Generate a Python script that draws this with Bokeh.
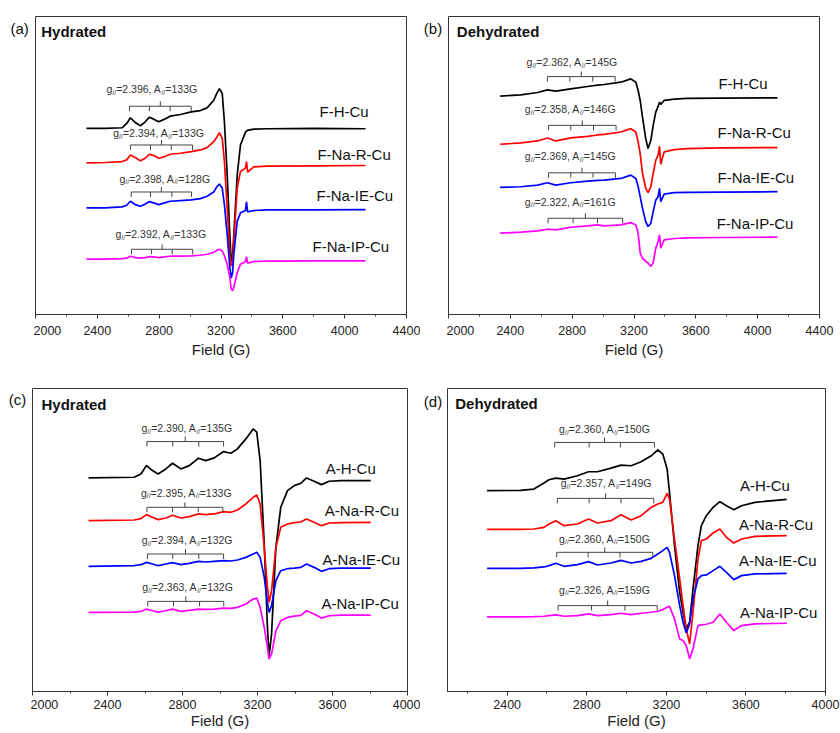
from bokeh.plotting import figure
from bokeh.layouts import row, column
from bokeh.models import Range1d, FixedTicker, Label
from bokeh.core.properties import value
from bokeh.embed import file_html
from bokeh.resources import INLINE

FONT = "Liberation Sans"
COLORS = ["#000000", "#ff0000", "#0000ff", "#ff00ff"]

# ---------------- panel (a): F samples, hydrated ----------------
field_a = [2330, 2450, 2560, 2590, 2614, 2645, 2679, 2710, 2737, 2765, 2797, 2835,
           2871, 2938, 3007, 3067, 3110, 3153, 3175, 3190, 3208, 3222, 3240, 3257,
           3266, 3275, 3283, 3305, 3326, 3358, 3365, 3372, 3412, 3500, 3800, 4135]
a_H = [562, 562, 564, 577, 594, 580, 570, 582, 596, 590, 582, 590, 599, 604, 612, 616,
       624, 647, 670, 682, 667, 582, 422, 242, 160, 175, 242, 422, 512, 550, 554, 556,
       560, 561, 562, 561]
a_R = [458, 459, 462, 467, 482, 474, 464, 472, 484, 480, 472, 477, 484, 487, 492, 497,
       504, 522, 537, 549, 532, 462, 322, 182, 147, 152, 222, 382, 432, 442, 462, 430,
       446, 448, 449, 450]
a_IE = [322, 322, 325, 330, 342, 332, 327, 334, 341, 337, 332, 337, 342, 344, 346, 350,
        357, 370, 387, 394, 382, 332, 242, 142, 110, 127, 182, 282, 307, 314, 340, 310,
        314, 316, 316, 317]
a_IP = [167, 167, 169, 170, 176, 172, 170, 172, 175, 174, 172, 174, 176, 176, 177, 179,
        182, 188, 194, 197, 192, 177, 152, 112, 77, 72, 82, 127, 152, 159, 175, 155,
        160, 161, 162, 162]
names_a = ["F-H-Cu", "F-Na-R-Cu", "F-Na-IE-Cu", "F-Na-IP-Cu"]
g_a = ["2.396", "2.394", "2.398", "2.392"]
A_a = ["133", "133", "128", "133"]
hf_a = [[2608, 2737, 2871, 3007], [2614, 2744, 2878, 3016],
        [2619, 2744, 2882, 3009], [2621, 2750, 2884, 3017]]

# ---------------- panel (b): F samples, dehydrated ----------------
field_b = [2334, 2468, 2576, 2640, 2694, 2791, 2899, 2964, 3007, 3115, 3179, 3212, 3227,
           3240, 3255, 3276, 3291, 3309, 3324, 3341, 3356, 3365, 3373, 3395, 3460, 3546,
           3762, 4128]
b_H = [658, 662, 669, 677, 673, 680, 687, 691, 693, 700, 710, 700, 675, 645, 595, 530,
       500, 525, 570, 610, 627, 640, 633, 645, 649, 651, 652, 653]
b_R = [513, 517, 523, 532, 523, 532, 537, 541, 543, 550, 560, 550, 520, 485, 425, 380,
       367, 385, 425, 465, 480, 507, 453, 490, 497, 500, 502, 503]
b_IE = [383, 385, 390, 397, 390, 397, 402, 404, 405, 410, 420, 410, 385, 355, 320, 280,
        265, 275, 310, 345, 355, 380, 340, 363, 367, 368, 369, 370]
b_IP = [245, 248, 252, 257, 255, 263, 267, 270, 267, 270, 277, 270, 245, 185, 170, 160,
        155, 145, 155, 200, 220, 240, 200, 225, 229, 231, 232, 233]
names_b = ["F-H-Cu", "F-Na-R-Cu", "F-Na-IE-Cu", "F-Na-IP-Cu"]
g_b = ["2.362", "2.358", "2.369", "2.322"]
A_b = ["145", "146", "145", "161"]
hf_b = [[2640, 2785, 2933, 3078], [2647, 2791, 2938, 3084],
        [2647, 2791, 2935, 3080], [2644, 2806, 2964, 3127]]

# ---------------- panel (c): A samples, hydrated ----------------
field_c = [2299, 2542, 2578, 2608, 2640, 2670, 2711, 2747, 2791, 2836, 2885, 2924, 2969,
           3019, 3058, 3093, 3138, 3177, 3196, 3214, 3236, 3253, 3262, 3275, 3298, 3324,
           3360, 3396, 3431, 3461, 3502, 3541, 3582, 3644, 3804]
c_H = [640, 642, 652, 677, 662, 652, 667, 684, 667, 677, 699, 692, 700, 719, 714, 727,
       757, 787, 777, 692, 442, 192, 107, 172, 432, 552, 602, 617, 624, 640, 630, 620,
       630, 632, 632]
c_R = [512, 514, 518, 530, 522, 515, 520, 528, 520, 524, 532, 530, 532, 539, 537, 544,
       562, 582, 589, 562, 432, 312, 267, 302, 432, 492, 502, 506, 508, 517, 507, 497,
       505, 506, 507]
c_IE = [375, 377, 380, 387, 382, 377, 382, 386, 380, 384, 390, 388, 390, 392, 391, 394,
        402, 412, 417, 402, 342, 267, 237, 257, 332, 362, 368, 370, 372, 382, 372, 360,
        368, 370, 370]
c_IP = [237, 238, 240, 247, 242, 238, 242, 247, 240, 243, 247, 246, 247, 250, 249, 252,
        262, 277, 280, 252, 192, 132, 97, 112, 182, 212, 222, 226, 228, 242, 232, 220,
        227, 229, 229]
names_c = ["A-H-Cu", "A-Na-R-Cu", "A-Na-IE-Cu", "A-Na-IP-Cu"]
g_c = ["2.390", "2.395", "2.394", "2.363"]
A_c = ["135", "133", "132", "132"]
hf_c = [[2610, 2748, 2887, 3019], [2610, 2747, 2884, 3015],
        [2613, 2748, 2887, 3019], [2615, 2752, 2891, 3020]]

# ---------------- panel (d): A samples, dehydrated ----------------
field_d = [2299, 2467, 2534, 2585, 2610, 2644, 2686, 2753, 2809, 2854, 2922, 2972, 3023,
           3073, 3124, 3157, 3182, 3204, 3216, 3241, 3267, 3284, 3300, 3317, 3334, 3359,
           3376, 3401, 3435, 3469, 3502, 3539, 3578, 3645, 3805]
d_H = [603, 604, 608, 626, 636, 641, 638, 648, 660, 660, 671, 680, 678, 690, 708, 726,
       713, 668, 598, 438, 298, 238, 188, 208, 308, 438, 498, 528, 553, 570, 558, 546,
       558, 568, 577]
d_R = [487, 487, 488, 493, 503, 513, 498, 503, 518, 506, 513, 531, 515, 528, 553, 563,
       568, 595, 578, 458, 338, 258, 188, 143, 238, 398, 453, 458, 476, 488, 463, 446,
       458, 466, 468]
d_IE = [370, 370, 371, 374, 378, 385, 376, 381, 390, 380, 386, 394, 386, 391, 400, 413,
        423, 433, 418, 348, 258, 208, 176, 203, 278, 338, 348, 350, 363, 376, 358, 336,
        348, 353, 355]
d_IP = [224, 224, 225, 226, 228, 230, 226, 228, 233, 228, 231, 235, 231, 235, 238, 241,
        246, 253, 256, 218, 158, 153, 138, 98, 128, 198, 200, 202, 208, 233, 208, 183,
        198, 203, 205]
names_d = ["A-H-Cu", "A-Na-R-Cu", "A-Na-IE-Cu", "A-Na-IP-Cu"]
g_d = ["2.360", "2.357", "2.360", "2.326"]
A_d = ["150", "149", "150", "159"]
hf_d = [[2639, 2812, 2969, 3140], [2652, 2812, 2972, 3137],
        [2649, 2807, 2967, 3132], [2656, 2824, 2992, 3154]]

# Arial / Liberation Sans advance widths (per 1000 em) for the annotation glyphs
ADV = {'g': 556, '=': 584, '.': 278, ',': 278, ' ': 278, 'A': 667, 'G': 778, '/': 278}
for ch in "0123456789":
    ADV[ch] = 556
MAIN, SUB = 10.5, 7


def tw(s, px):
    return sum(ADV[c] for c in s) * px / 1000.0


def tag_fig(w, h, tag, tx, ty):
    """Narrow strip left of a panel frame that carries the (a)/(b)/... tag."""
    t = figure(width=w, height=h, x_range=Range1d(0, w), y_range=Range1d(0, h),
               output_backend="svg", toolbar_location=None, x_axis_location=None,
               y_axis_location=None, min_border=0, min_border_left=0, min_border_right=0,
               min_border_top=0, min_border_bottom=0)
    t.grid.visible = False
    t.outline_line_color = None
    t.text(x=[tx], y=[ty], text=[tag], text_font=value(FONT), text_font_size="15px",
           text_baseline="middle", text_align="left", text_color="#111111")
    return t


def panel(cfg):
    p = figure(width=cfg["w"], height=cfg["h"], x_range=Range1d(*cfg["xr"]),
               y_range=Range1d(*cfg["yr"]), output_backend="svg", toolbar_location=None,
               y_axis_location=None, min_border_left=2, min_border_right=cfg["b"][0],
               min_border_top=cfg["b"][1], min_border_bottom=cfg["b"][2])
    p.grid.visible = False
    p.outline_line_color = "#333333"
    p.outline_line_width = 1
    ax = p.xaxis[0]
    ax.ticker = FixedTicker(ticks=cfg["major"], minor_ticks=cfg["minor"])
    ax.axis_line_color = "#333333"
    ax.major_tick_line_color = "#333333"
    ax.minor_tick_line_color = "#333333"
    ax.major_tick_out = 4
    ax.major_tick_in = 0
    ax.minor_tick_out = 2
    ax.minor_tick_in = 0
    ax.major_label_standoff = cfg["tick_standoff"]
    ax.major_label_text_font = FONT
    ax.major_label_text_font_size = "12.5px"
    ax.major_label_text_color = "#222222"
    ax.axis_label = "Field (G)"
    ax.axis_label_text_font = FONT
    ax.axis_label_text_font_size = "15px"
    ax.axis_label_text_font_style = "normal"
    ax.axis_label_text_color = "#222222"
    ax.axis_label_standoff = cfg["lab_standoff"]

    # spectra
    for k, yv in enumerate(cfg["curves"]):
        p.line(cfg["field"], yv, line_color=COLORS[k], line_width=1.7)

    # sample names
    p.text(x=cfg["name_x"], y=cfg["name_y"], text=cfg["names"], text_font=value(FONT),
           text_font_size="15px", text_baseline="middle", text_align="left",
           text_color="#111111")

    # hyperfine brackets
    x0, y0, x1, y1 = [], [], [], []
    for lines, yb in zip(cfg["hf"], cfg["br_y"]):
        x0.append(lines[0]); x1.append(lines[-1]); y0.append(yb); y1.append(yb)
        for xl in lines:
            x0.append(xl); x1.append(xl); y0.append(yb); y1.append(yb - 15)
        xm = (lines[0] + lines[-1]) / 2.0
        x0.append(xm); x1.append(xm); y0.append(yb); y1.append(yb + 15)
    p.segment(x0=x0, y0=y0, x1=x1, y1=y1, line_color="#444444", line_width=1)

    # g// , A// annotations
    mx, my, mt, mo, sx, sy, so = [], [], [], [], [], [], []
    for x, y, g, a in zip(cfg["note_x"], cfg["note_y"], cfg["g"], cfg["A"]):
        off = 0.0
        mx.append(x); my.append(y); mt.append("g"); mo.append(off)
        off += tw("g", MAIN)
        sx.append(x); sy.append(y - 9); so.append(off)
        off += tw("//", SUB)
        s1 = "=" + g + ", A"
        mx.append(x); my.append(y); mt.append(s1); mo.append(off)
        off += tw(s1, MAIN)
        sx.append(x); sy.append(y - 9); so.append(off)
        off += tw("//", SUB)
        mx.append(x); my.append(y); mt.append("=" + a + "G"); mo.append(off)
    p.text(x=mx, y=my, text=mt, x_offset=mo, text_font=value(FONT), text_font_size="10.5px",
           text_baseline="middle", text_align="left", text_color="#333333")
    p.text(x=sx, y=sy, text=["//"] * len(sx), x_offset=so, text_font=value(FONT),
           text_font_size="7px", text_baseline="middle", text_align="left",
           text_color="#333333")

    # condition title inside the frame
    hx, hy = cfg["title_pos"]
    p.add_layout(Label(x=hx, y=hy, text=cfg["title"], text_font=FONT, text_font_size="15px",
                       text_font_style="bold", text_baseline="middle", text_align="left",
                       text_color="#111111"))
    return p


pa = panel(dict(w=387, h=362, xr=(2000, 4400), yr=(0, 900), b=(14, 14, 48),
                tick_standoff=7, lab_standoff=3,
                major=[2000, 2400, 2800, 3200, 3600, 4000, 4400],
                minor=[2200, 2600, 3000, 3400, 3800, 4200],
                field=field_a, curves=[a_H, a_R, a_IE, a_IP], names=names_a,
                name_x=[3837, 3824, 3818, 3792], name_y=[612, 484, 359, 205],
                hf=hf_a, br_y=[629, 512, 370, 197],
                note_x=[2459, 2503, 2543, 2517], note_y=[680, 547, 410, 242], g=g_a, A=A_a,
                title="Hydrated", title_pos=(2037, 855)))

pb = panel(dict(w=394, h=362, xr=(2000, 4400), yr=(0, 898), b=(21, 16, 47),
                tick_standoff=7, lab_standoff=3,
                major=[2000, 2400, 2800, 3200, 3600, 4000, 4400],
                minor=[2200, 2600, 3000, 3400, 3800, 4200],
                field=field_b, curves=[b_H, b_R, b_IE, b_IP], names=names_b,
                name_x=[3746, 3740, 3740, 3735], name_y=[697, 547, 412, 275],
                hf=hf_b, br_y=[717, 570, 427, 290],
                note_x=[2505, 2494, 2494, 2494], note_y=[760, 618, 477, 340], g=g_b, A=A_b,
                title="Dehydrated", title_pos=(2054, 853)))

pc = panel(dict(w=390, h=371, xr=(2000, 4000), yr=(0, 908), b=(13, 26, 42),
                tick_standoff=4, lab_standoff=0,
                major=[2000, 2400, 2800, 3200, 3600, 4000],
                minor=[2200, 2600, 3000, 3400, 3800],
                field=field_c, curves=[c_H, c_R, c_IE, c_IP], names=names_c,
                name_x=[3564, 3559, 3547, 3541], name_y=[667, 542, 397, 265],
                hf=hf_c, br_y=[749, 552, 412, 270],
                note_x=[2581, 2578, 2583, 2585], note_y=[789, 595, 454, 312], g=g_c, A=A_c,
                title="Hydrated", title_pos=(2048, 860)))

pd_ = panel(dict(w=395, h=371, xr=(2100, 4000), yr=(0, 910), b=(15, 26, 41),
                 tick_standoff=4, lab_standoff=0,
                 major=[2400, 2800, 3200, 3600, 4000],
                 minor=[2200, 2600, 3000, 3400, 3800],
                 field=field_d, curves=[d_H, d_R, d_IE, d_IP], names=names_d,
                 name_x=[3570, 3565, 3565, 3570], name_y=[620, 501, 393, 238],
                 hf=hf_d, br_y=[748, 580, 418, 258],
                 note_x=[2661, 2669, 2661, 2661], note_y=[788, 625, 458, 306], g=g_d, A=A_d,
                 title="Dehydrated", title_pos=(2139, 866)))

ta = tag_fig(33, 362, "(a)", 10, 348)
tb = tag_fig(26, 362, "(b)", 3.3, 348)
tc = tag_fig(30, 371, "(c)", 8.3, 358)
td = tag_fig(25, 371, "(d)", 3.3, 355)

layout = column(row(ta, pa, tb, pb), row(tc, pc, td, pd_))
html = file_html(layout, INLINE)
html = html.replace("<head>", "<head><style>html,body{margin:0;padding:0;}</style>", 1)
open("out.html", "w").write(html)
